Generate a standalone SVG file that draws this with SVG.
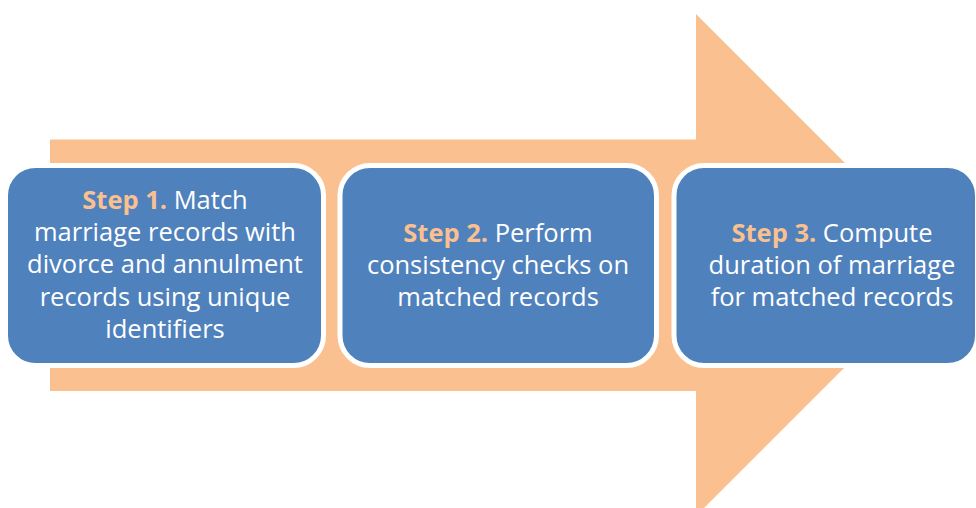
<svg xmlns="http://www.w3.org/2000/svg" width="976" height="508" viewBox="0 0 976 508">
<style>
.box{fill:#4F81BD;stroke:#FFFFFF;stroke-width:5}
.t{font-family:"Open Sans","Liberation Sans",sans-serif;font-size:25.5px;fill:#FFFFFF;text-anchor:middle}
.s{fill:#FAC090;font-weight:bold}
</style>
<rect width="976" height="508" fill="#FFFFFF"/>
<g id="arrow">
<polygon points="50,139.5 696,139.5 696,14 947,265 696,516 696,391 50,391" fill="#FAC090"/>
</g>
<g id="connectors"></g>
<g id="step1">
<rect class="box" x="5.5" y="165.5" width="318" height="200" rx="30"/>
<text class="t" x="165" y="209"><tspan class="s">Step 1.</tspan> Match</text>
<text class="t" x="165" y="241">marriage records with</text>
<text class="t" x="165" y="273">divorce and annulment</text>
<text class="t" x="165" y="306">records using unique</text>
<text class="t" x="165" y="338">identifiers</text>
</g>
<g id="step2">
<rect class="box" x="340" y="165.5" width="316.5" height="200" rx="30"/>
<text class="t" x="498" y="242"><tspan class="s">Step 2.</tspan> Perform</text>
<text class="t" x="498" y="274">consistency checks on</text>
<text class="t" x="498" y="306">matched records</text>
</g>
<g id="step3">
<rect class="box" x="674" y="165.5" width="303.5" height="200" rx="30"/>
<text class="t" x="832" y="242"><tspan class="s">Step 3.</tspan> Compute</text>
<text class="t" x="832" y="274">duration of marriage</text>
<text class="t" x="832" y="306">for matched records</text>
</g>
</svg>
